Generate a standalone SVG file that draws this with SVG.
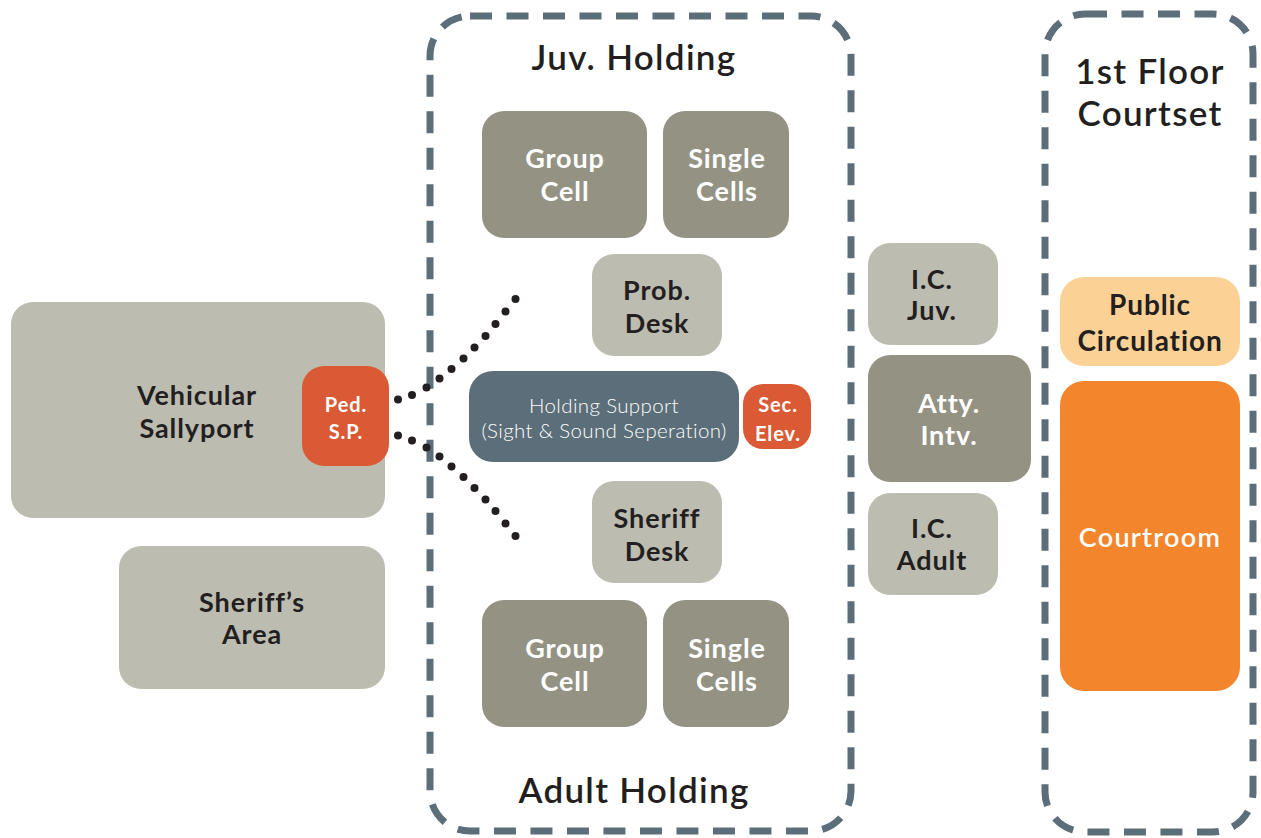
<svg xmlns="http://www.w3.org/2000/svg" width="1261" height="838" viewBox="0 0 1261 838">
  <style>
    text { font-family: Lato, "Open Sans", "DejaVu Sans", sans-serif; text-anchor: middle; }
    .zone { fill: none; stroke: #5b6e79; stroke-width: 7; stroke-dasharray: 22 14.5; }
    .title { font-size: 35px; font-weight: 600; fill: #231f20; letter-spacing: 1.3px; }
    .lbl { font-size: 27px; font-weight: 700; letter-spacing: 0.9px; }
    .sm { font-size: 20px; font-weight: 700; fill: #ffffff; letter-spacing: 0.9px; }
    .thin { font-size: 20.5px; font-weight: 300; fill: #ffffff; letter-spacing: 0.35px; }
    .light { fill: #bcbcb0; }
    .dark { fill: #949283; }
    .slate { fill: #5b6e79; }
    .red { fill: #d95a35; }
    .peach { fill: #fcd196; }
    .orange { fill: #f3852c; }
    .ink { fill: #231f20; }
    .white { fill: #ffffff; }
    .dot { fill: #231f20; }
  </style>

  <!-- dashed zone outlines -->
  <g id="zones">
    <rect class="zone" x="430" y="16" width="421" height="815" rx="40"/>
    <rect class="zone" x="1045" y="14" width="208" height="818" rx="40"/>
  </g>

  <!-- zone titles -->
  <g id="titles">
    <text class="title" x="634" y="70">Juv. Holding</text>
    <text class="title" x="634" y="803">Adult Holding</text>
    <text class="title" x="1150" y="84">1st Floor</text>
    <text class="title" x="1150" y="126">Courtset</text>
  </g>

  <!-- dotted paths from the pedestrian sallyport -->
  <g id="connectors">
    <circle class="dot" cx="385" cy="402" r="4"/>
    <circle class="dot" cx="398" cy="399.5" r="4"/>
    <circle class="dot" cx="412" cy="395" r="4"/>
    <circle class="dot" cx="426.5" cy="387.5" r="4"/>
    <circle class="dot" cx="439.5" cy="378.5" r="4"/>
    <circle class="dot" cx="451.5" cy="369" r="4"/>
    <circle class="dot" cx="463.5" cy="358.5" r="4"/>
    <circle class="dot" cx="474.5" cy="347.5" r="4"/>
    <circle class="dot" cx="485.5" cy="336" r="4"/>
    <circle class="dot" cx="495.5" cy="324" r="4"/>
    <circle class="dot" cx="505.5" cy="311.5" r="4"/>
    <circle class="dot" cx="515.5" cy="299" r="4"/>

    <circle class="dot" cx="385" cy="433" r="4"/>
    <circle class="dot" cx="398" cy="435.5" r="4"/>
    <circle class="dot" cx="412" cy="440.5" r="4"/>
    <circle class="dot" cx="426.5" cy="447.5" r="4"/>
    <circle class="dot" cx="439.5" cy="456.5" r="4"/>
    <circle class="dot" cx="451.5" cy="466.5" r="4"/>
    <circle class="dot" cx="463.5" cy="477" r="4"/>
    <circle class="dot" cx="474.5" cy="488" r="4"/>
    <circle class="dot" cx="485.5" cy="499.5" r="4"/>
    <circle class="dot" cx="495.5" cy="511" r="4"/>
    <circle class="dot" cx="505.5" cy="523.5" r="4"/>
    <circle class="dot" cx="515.5" cy="536" r="4"/>
  </g>

  <g id="vehicular-sallyport">
    <rect class="light" x="11" y="302" width="374" height="216" rx="22"/>
    <text class="lbl ink" x="197" y="405">Vehicular</text>
    <text class="lbl ink" x="197" y="438">Sallyport</text>
  </g>

  <g id="ped-sp">
    <rect class="red" x="302" y="366" width="87" height="100" rx="22"/>
    <text class="sm" x="346" y="412">Ped.</text>
    <text class="sm" x="346" y="439">S.P.</text>
  </g>

  <g id="sheriffs-area">
    <rect class="light" x="119" y="546" width="266" height="143" rx="22"/>
    <text class="lbl ink" x="252" y="612">Sheriff’s</text>
    <text class="lbl ink" x="252" y="644">Area</text>
  </g>

  <g id="juv-group-cell">
    <rect class="dark" x="482" y="111" width="165" height="127" rx="22"/>
    <text class="lbl white" x="565" y="168">Group</text>
    <text class="lbl white" x="565" y="201">Cell</text>
  </g>

  <g id="juv-single-cells">
    <rect class="dark" x="663" y="111" width="126" height="127" rx="22"/>
    <text class="lbl white" x="727" y="168">Single</text>
    <text class="lbl white" x="727" y="201">Cells</text>
  </g>

  <g id="prob-desk">
    <rect class="light" x="592" y="254" width="130" height="102" rx="22"/>
    <text class="lbl ink" x="657" y="300">Prob.</text>
    <text class="lbl ink" x="657" y="333">Desk</text>
  </g>

  <g id="holding-support">
    <rect class="slate" x="469" y="371" width="270" height="91" rx="24"/>
    <text class="thin" x="604" y="413">Holding Support</text>
    <text class="thin" x="604" y="438">(Sight &amp; Sound Seperation)</text>
  </g>

  <g id="sec-elev">
    <rect class="red" x="743" y="384" width="68" height="65" rx="20"/>
    <text class="sm" x="778" y="412">Sec.</text>
    <text class="sm" x="778" y="441">Elev.</text>
  </g>

  <g id="sheriff-desk">
    <rect class="light" x="592" y="481" width="130" height="102" rx="22"/>
    <text class="lbl ink" x="657" y="528">Sheriff</text>
    <text class="lbl ink" x="657" y="561">Desk</text>
  </g>

  <g id="adult-group-cell">
    <rect class="dark" x="482" y="600" width="165" height="127" rx="22"/>
    <text class="lbl white" x="565" y="658">Group</text>
    <text class="lbl white" x="565" y="691">Cell</text>
  </g>

  <g id="adult-single-cells">
    <rect class="dark" x="663" y="600" width="126" height="127" rx="22"/>
    <text class="lbl white" x="727" y="658">Single</text>
    <text class="lbl white" x="727" y="691">Cells</text>
  </g>

  <g id="ic-juv">
    <rect class="light" x="868" y="243" width="130" height="102" rx="22"/>
    <text class="lbl ink" x="932" y="289">I.C.</text>
    <text class="lbl ink" x="932" y="320">Juv.</text>
  </g>

  <g id="atty-intv">
    <rect class="dark" x="868" y="355" width="163" height="127" rx="22"/>
    <text class="lbl white" x="949" y="413">Atty.</text>
    <text class="lbl white" x="949" y="445">Intv.</text>
  </g>

  <g id="ic-adult">
    <rect class="light" x="868" y="493" width="130" height="102" rx="22"/>
    <text class="lbl ink" x="932" y="538">I.C.</text>
    <text class="lbl ink" x="932" y="570">Adult</text>
  </g>

  <g id="public-circulation">
    <rect class="peach" x="1060" y="277" width="180" height="89" rx="24"/>
    <text class="lbl ink" x="1150" y="315" style="font-size:28px">Public</text>
    <text class="lbl ink" x="1150" y="351" style="font-size:28px">Circulation</text>
  </g>

  <g id="courtroom">
    <rect class="orange" x="1060" y="381" width="180" height="310" rx="24"/>
    <text class="lbl white" x="1150" y="547" style="font-weight:600;letter-spacing:1.3px">Courtroom</text>
  </g>
</svg>
